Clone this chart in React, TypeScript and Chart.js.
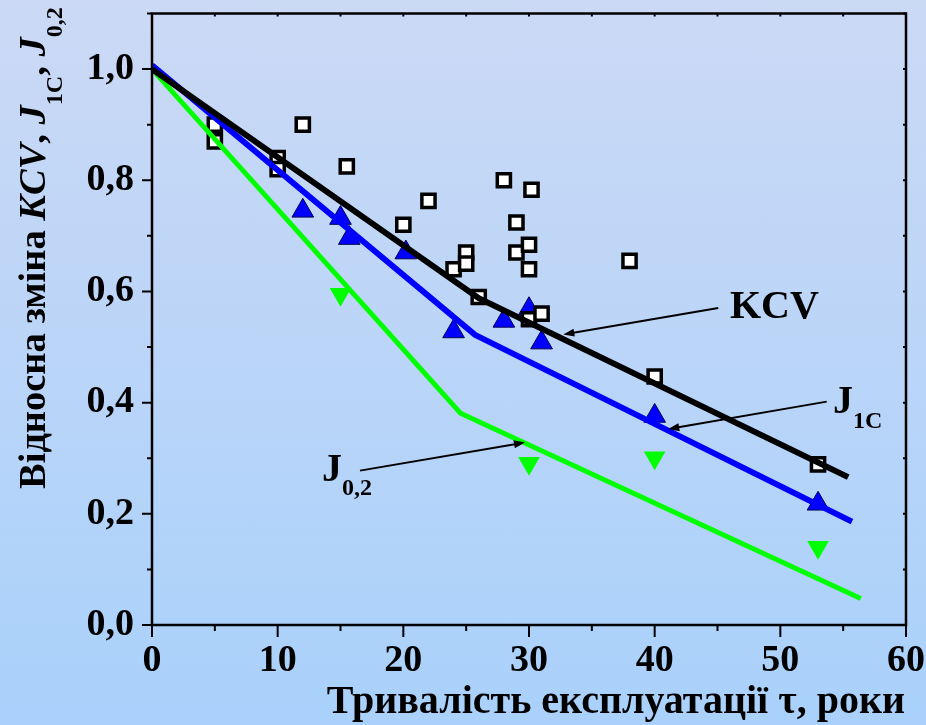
import React, { useEffect, useRef } from 'react';
import { Chart, registerables } from 'chart.js';

Chart.register(...registerables);

const FONT = "'Liberation Serif', 'Times New Roman', serif";

// KCV measured points (years, relative value)
const kcvYears = [5, 5, 10, 10, 12, 15.5, 20, 22, 24, 25, 25, 26, 28, 29, 29, 30, 30, 30, 30.2, 31, 38, 40, 53];
const kcvValues = [0.90, 0.87, 0.84, 0.82, 0.90, 0.825, 0.72, 0.763, 0.64, 0.67, 0.65, 0.59, 0.80, 0.724, 0.67, 0.684, 0.64, 0.55, 0.783, 0.56, 0.655, 0.447, 0.289];

// J1C measured points
const j1cYears = [12, 15, 15.7, 20.2, 24, 28, 30, 31, 40, 53];
const j1cValues = [0.745, 0.732, 0.696, 0.67, 0.528, 0.547, 0.568, 0.508, 0.376, 0.218];

// J0,2 measured points
const j02Years = [15, 30, 40, 53];
const j02Values = [0.595, 0.291, 0.301, 0.14];

// Trend lines
const kcvFitYears = [0, 26, 55.4];
const kcvFitValues = [1.0, 0.588, 0.266];
const j1cFitYears = [0, 25.7, 55.7];
const j1cFitValues = [1.007, 0.522, 0.186];
const j02FitYears = [0, 24.55, 56.4];
const j02FitValues = [1.0, 0.381, 0.0475];

// Axis ticks
const xMajorTicks = [0, 10, 20, 30, 40, 50, 60];
const yMajorTicks = [0, 0.2, 0.4, 0.6, 0.8, 1.0];

const pts = (xs: number[], ys: number[]) => xs.map((x, i) => ({ x, y: ys[i] }));

type Part = { text: string; size: number; italic?: boolean; dy?: number };

function drawParts(ctx: CanvasRenderingContext2D, x: number, y: number, parts: Part[]) {
  let cx = x;
  for (const p of parts) {
    ctx.font = `${p.italic ? 'italic ' : ''}bold ${p.size}px ${FONT}`;
    ctx.fillText(p.text, cx, y + (p.dy || 0));
    cx += ctx.measureText(p.text).width;
  }
  return cx;
}

function arrow(ctx: CanvasRenderingContext2D, x1: number, y1: number, x2: number, y2: number) {
  ctx.beginPath();
  ctx.lineWidth = 2;
  ctx.moveTo(x1, y1);
  const ang = Math.atan2(y2 - y1, x2 - x1);
  const hl = 11, hw = 4;
  ctx.lineTo(x2 - Math.cos(ang) * hl * 0.8, y2 - Math.sin(ang) * hl * 0.8);
  ctx.stroke();
  ctx.beginPath();
  ctx.moveTo(x2, y2);
  ctx.lineTo(x2 - Math.cos(ang) * hl - Math.sin(ang) * hw, y2 - Math.sin(ang) * hl + Math.cos(ang) * hw);
  ctx.lineTo(x2 - Math.cos(ang) * hl + Math.sin(ang) * hw, y2 - Math.sin(ang) * hl - Math.cos(ang) * hw);
  ctx.closePath();
  ctx.fill();
}

const decorPlugin = {
  id: 'decor',
  afterDatasetsDraw(chart: any) {
    const { ctx, chartArea: a, scales } = chart;
    const xs = scales.x, ys = scales.y;
    ctx.save();
    ctx.strokeStyle = '#000';
    ctx.fillStyle = '#000';
    // frame
    ctx.lineWidth = 2.5;
    ctx.strokeRect(a.left, a.top, a.right - a.left, a.bottom - a.top);
    // ticks
    ctx.lineWidth = 2;
    ctx.beginPath();
    for (let k = 0; k <= 12; k++) {
      const v = k * 5;
      const px = xs.getPixelForValue(v);
      const major = xMajorTicks.includes(v);
      ctx.moveTo(px, a.bottom);
      ctx.lineTo(px, a.bottom + (major ? 12 : 6));
      ctx.moveTo(px, a.top);
      ctx.lineTo(px, a.top + 3);
    }
    for (let k = 0; k <= 11; k++) {
      const v = k / 10;
      const py = ys.getPixelForValue(v);
      const major = yMajorTicks.some((t) => Math.abs(t - v) < 1e-6);
      ctx.moveTo(a.left, py);
      ctx.lineTo(a.left - (major ? 10 : 5), py);
      ctx.moveTo(a.right, py);
      ctx.lineTo(a.right - 3, py);
    }
    ctx.stroke();

    // annotations
    ctx.textBaseline = 'alphabetic';
    ctx.textAlign = 'left';
    const P = (x: number, y: number) => [xs.getPixelForValue(x), ys.getPixelForValue(y)];
    // KCV
    let [tx, ty] = P(45.99, 0.5518);
    drawParts(ctx, tx, ty, [{ text: 'KCV', size: 40 }]);
    let [ax1, ay1] = P(45.06, 0.5702);
    let [ax2, ay2] = P(32.73, 0.5226);
    arrow(ctx, ax1, ay1, ax2, ay2);
    // J1C
    [tx, ty] = P(54.19, 0.3816);
    drawParts(ctx, tx, ty, [{ text: 'J', size: 40 }, { text: '1C', size: 24, dy: 15 }]);
    [ax1, ay1] = P(53.69, 0.4018);
    [ax2, ay2] = P(41.08, 0.3524);
    arrow(ctx, ax1, ay1, ax2, ay2);
    // J0,2
    [tx, ty] = P(13.53, 0.2598);
    drawParts(ctx, tx, ty, [{ text: 'J', size: 40 }, { text: '0,2', size: 24, dy: 14 }]);
    [ax1, ay1] = P(16.55, 0.2777);
    [ax2, ay2] = P(29.68, 0.3284);
    arrow(ctx, ax1, ay1, ax2, ay2);

    // x title
    ctx.font = `bold 40px ${FONT}`;
    ctx.textAlign = 'right';
    ctx.fillText('Тривалість експлуатації τ, роки', 905, 713);

    // y title (rotated)
    ctx.save();
    ctx.translate(45, 489);
    ctx.rotate(-Math.PI / 2);
    ctx.textAlign = 'left';
    drawParts(ctx, 0, 0, [
      { text: 'Відносна зміна ', size: 38.5 },
      { text: 'KCV', size: 38.5, italic: true },
      { text: ', ', size: 38.5 },
      { text: 'J', size: 38.5, italic: true },
      { text: '1C', size: 24, dy: 17 },
      { text: ', ', size: 38.5 },
      { text: 'J', size: 38.5, italic: true },
      { text: '0,2', size: 24, dy: 17 },
    ]);
    ctx.restore();
    ctx.restore();
  },
};

export default function App() {
  const ref = useRef<HTMLCanvasElement>(null);
  useEffect(() => {
    const canvas = ref.current!;
    const chart = new Chart(canvas, {
      type: 'scatter',
      data: {
        datasets: [
          {
            label: 'KCV fit',
            data: pts(kcvFitYears, kcvFitValues),
            showLine: true,
            borderColor: '#000000',
            borderWidth: 6,
            pointRadius: 0,
            tension: 0,
            order: 0,
          },
          {
            label: 'J1C fit',
            data: pts(j1cFitYears, j1cFitValues),
            showLine: true,
            borderColor: '#0000ff',
            borderWidth: 6,
            pointRadius: 0,
            tension: 0,
            order: 0,
          },
          {
            label: 'J0,2 fit',
            data: pts(j02FitYears, j02FitValues),
            showLine: true,
            borderColor: '#00ff00',
            borderWidth: 5,
            pointRadius: 0,
            tension: 0,
            order: 0,
          },
          {
            label: 'KCV',
            data: pts(kcvYears, kcvValues),
            pointStyle: 'rect',
            pointRadius: 9.3,
            pointBorderWidth: 3.5,
            pointBackgroundColor: '#ffffff',
            pointBorderColor: '#000000',
            order: 1,
          },
          {
            label: 'J1C',
            data: pts(j1cYears, j1cValues),
            pointStyle: 'triangle',
            pointRadius: 12.5,
            pointBorderWidth: 1,
            pointBackgroundColor: '#0000ff',
            pointBorderColor: '#000050',
            order: 1,
          },
          {
            label: 'J0,2',
            data: pts(j02Years, j02Values),
            pointStyle: 'triangle',
            rotation: 180,
            pointRadius: 12.5,
            pointBorderWidth: 0,
            pointBackgroundColor: '#00ff00',
            pointBorderColor: '#00ff00',
            order: 1,
          } as any,
        ],
      },
      options: {
        responsive: false,
        devicePixelRatio: 1,
        animation: false,
        layout: { padding: { top: 11, right: 20, left: 0, bottom: 0 } },
        plugins: { legend: { display: false }, tooltip: { enabled: false } },
        scales: {
          x: {
            type: 'linear',
            min: 0,
            max: 60,
            afterFit: (s: any) => {
              s.height = 100;
              s.paddingLeft = 0;
              s.paddingRight = 0;
            },
            grid: { display: false, drawTicks: false },
            border: { display: false },
            ticks: {
              stepSize: 5,
              autoSkip: false,
              maxRotation: 0,
              padding: 13,
              color: '#000',
              font: { family: FONT, size: 38, weight: 'bold' },
              callback: (v: any) => (xMajorTicks.includes(Number(v)) ? String(v) : ''),
            },
          },
          y: {
            type: 'linear',
            min: 0,
            max: 1.1,
            afterFit: (s: any) => {
              s.width = 152;
              s.paddingTop = 0;
              s.paddingBottom = 0;
            },
            grid: { display: false, drawTicks: false },
            border: { display: false },
            ticks: {
              stepSize: 0.1,
              autoSkip: false,
              padding: 18,
              color: '#000',
              font: { family: FONT, size: 38, weight: 'bold' },
              callback: (v: any) => {
                const n = Number(v);
                return yMajorTicks.some((t) => Math.abs(t - n) < 1e-6) ? n.toFixed(1).replace('.', ',') : '';
              },
            },
          },
        },
      },
      plugins: [decorPlugin],
    } as any);
    return () => chart.destroy();
  }, []);
  return (
    <div
      style={{
        position: 'fixed',
        left: 0,
        top: 0,
        width: 926,
        height: 725,
        background: 'linear-gradient(to bottom, #cbd9f5 0%, #a9d1fb 100%)',
      }}
    >
      <canvas ref={ref} width={926} height={725} style={{ display: 'block', width: 926, height: 725 }} />
    </div>
  );
}
